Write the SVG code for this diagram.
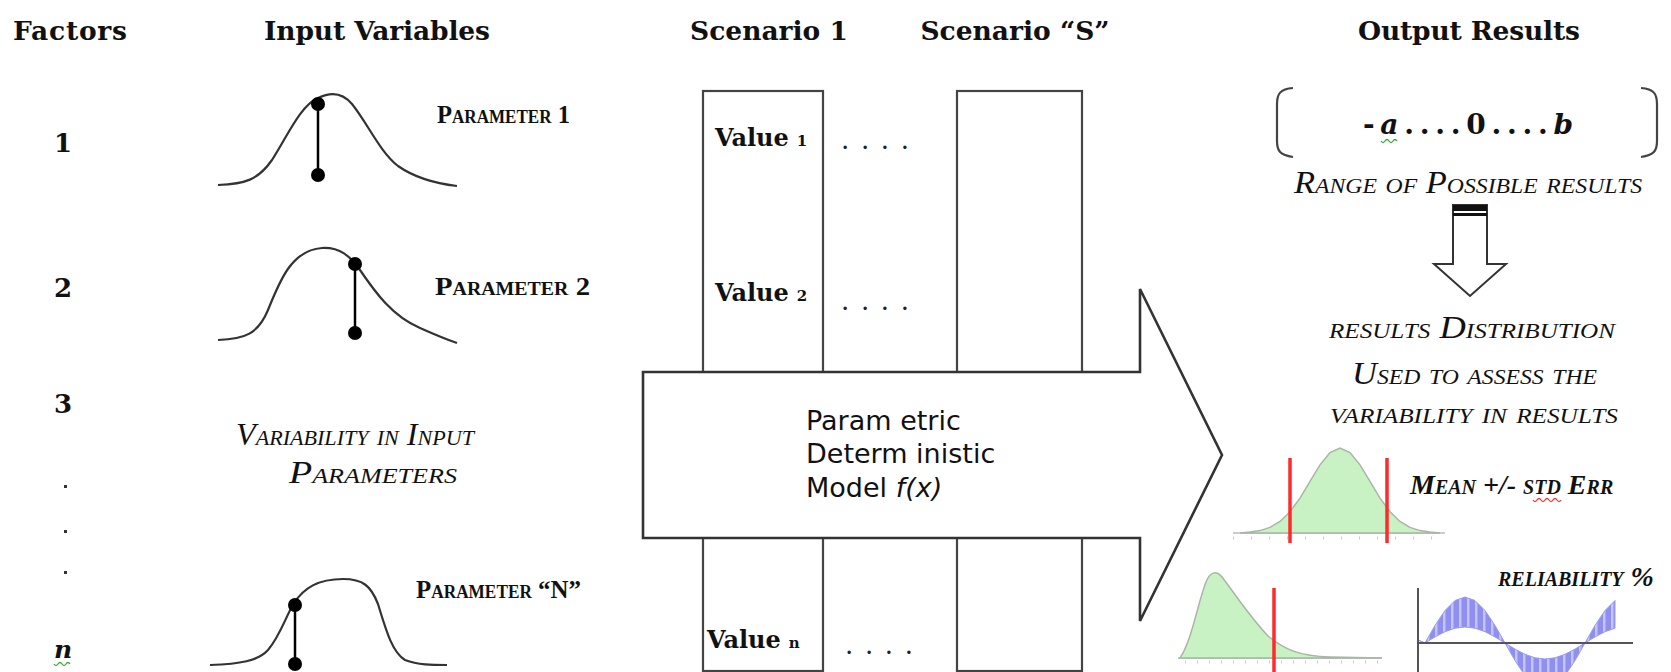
<svg xmlns="http://www.w3.org/2000/svg" width="1671" height="672" viewBox="0 0 1671 672">
<style>
.hdr{font-family:"DejaVu Serif","Liberation Serif",serif;font-weight:bold;font-size:26.5px;fill:#111}
.num{font-family:"DejaVu Serif","Liberation Serif",serif;font-weight:bold;font-size:26px;fill:#111}
.par{font-family:"Liberation Serif","DejaVu Serif",serif;font-weight:bold;font-size:26px;font-variant:small-caps;fill:#111}
.ital{font-family:"Liberation Serif","DejaVu Serif",serif;font-style:italic;font-size:32px;font-variant:small-caps;fill:#111}
.bital{font-family:"Liberation Serif","DejaVu Serif",serif;font-style:italic;font-weight:bold;font-size:28px;font-variant:small-caps;fill:#111}
.val{font-family:"DejaVu Serif","Liberation Serif",serif;font-weight:bold;font-size:24px;fill:#111}
.sub{font-size:15px}
.dots{font-family:"DejaVu Serif",serif;font-weight:bold;font-size:18px;fill:#222}
.model{font-family:"DejaVu Sans","Verdana",sans-serif;font-size:27px;fill:#111}
.curve{fill:none;stroke:#333;stroke-width:2.2}
.pin{stroke:#000;stroke-width:2.5}
.box{fill:#fff;stroke:#444;stroke-width:2.2}
.big{fill:#fff;stroke:#333;stroke-width:2.6;stroke-linejoin:miter}
.red{stroke:#ff2a2a;stroke-width:3.5}
.green{fill:#c9f2c4;stroke:#a9b5a6;stroke-width:1.5}
.axis{stroke:#bbb;stroke-width:1.5}
.sq{fill:none;stroke-width:1.3}
</style>
<defs>
<pattern id="hatch" width="8" height="8" patternUnits="userSpaceOnUse">
<rect width="8" height="8" fill="#8f8ff0"/>
<rect x="3" width="2.5" height="8" fill="#c4c4fb"/>
</pattern>
</defs>

<g id="headers">
<text class="hdr" x="13" y="40" textLength="114">Factors</text>
<text class="hdr" x="377" y="40" text-anchor="middle" textLength="226">Input Variables</text>
<text class="hdr" x="769" y="40" text-anchor="middle">Scenario 1</text>
<text class="hdr" x="1015" y="40" text-anchor="middle">Scenario “S”</text>
<text class="hdr" x="1469" y="40" text-anchor="middle" textLength="222">Output Results</text>
</g>

<g id="factors">
<text class="num" x="63" y="152" text-anchor="middle">1</text>
<text class="num" x="63" y="297" text-anchor="middle">2</text>
<text class="num" x="63" y="413" text-anchor="middle">3</text>
<rect x="64" y="485" width="3" height="3" fill="#333"/>
<rect x="64" y="530" width="3" height="3" fill="#333"/>
<rect x="64" y="571" width="3" height="3" fill="#333"/>
<text x="63" y="658" text-anchor="middle" style="font-family:'DejaVu Serif',serif;font-weight:bold;font-style:italic;font-size:25px;fill:#111">n</text>
<path class="sq" stroke="#3a3" d="M54,664 q2,3 4,0 q2,-3 4,0 q2,3 4,0 q2,-3 4,0"/>
</g>

<g id="param1">
<path class="curve" d="M218,185 C245,184 258,180 272,160 C288,135 300,106 318,98 C330,92 342,92 352,104 C368,124 380,152 398,166 C418,180 440,184 457,186"/>
<line class="pin" x1="318" y1="104" x2="318" y2="175"/>
<circle cx="318" cy="104" r="7"/>
<circle cx="318" cy="175" r="7"/>
<text class="par" x="437" y="123" textLength="133" lengthAdjust="spacingAndGlyphs">Parameter 1</text>
</g>

<g id="param2">
<path class="curve" d="M218,340 C245,339 258,334 268,310 C280,280 292,250 322,248 C340,247 350,256 360,270 C375,292 392,316 420,328 C438,336 448,340 457,343"/>
<line class="pin" x1="355" y1="264" x2="355" y2="333"/>
<circle cx="355" cy="264" r="7"/>
<circle cx="355" cy="333" r="7"/>
<text class="par" x="435" y="295" textLength="155" lengthAdjust="spacingAndGlyphs">Parameter 2</text>
</g>

<g id="variability">
<text class="ital" x="236" y="445" textLength="238" lengthAdjust="spacingAndGlyphs">Variability in Input</text>
<text class="ital" x="289" y="483" textLength="168" lengthAdjust="spacingAndGlyphs">Parameters</text>
</g>

<g id="paramN">
<path class="curve" d="M210,665 C240,664 258,661 268,650 C280,636 286,616 294,603 C304,588 318,579 343,579 C363,579 371,586 378,604 C386,630 392,652 405,660 C418,665 432,665 447,665"/>
<line class="pin" x1="295" y1="605" x2="295" y2="664"/>
<circle cx="295" cy="605" r="7"/>
<circle cx="295" cy="664" r="7"/>
<text class="par" x="416" y="598" textLength="165" lengthAdjust="spacingAndGlyphs">Parameter “N”</text>
</g>

<g id="scenario1">
<rect class="box" x="703" y="91" width="120" height="580"/>
<text class="val" x="715" y="146">Value<tspan class="sub" dx="8">1</tspan></text>
<text class="val" x="715" y="301">Value<tspan class="sub" dx="8">2</tspan></text>
<text class="val" x="707" y="648">Value<tspan class="sub" dx="8">n</tspan></text>
</g>

<g id="gap-dots">
<text class="dots" x="842" y="149" textLength="66">. . . .</text>
<text class="dots" x="842" y="310" textLength="66">. . . .</text>
<text class="dots" x="846" y="654" textLength="66">. . . .</text>
</g>

<g id="scenarioS">
<rect class="box" x="957" y="91" width="125" height="580"/>
</g>

<g id="model-arrow">
<polygon class="big" points="643,372 1140,372 1140,289 1222,455 1140,621 1140,538 643,538"/>
<text class="model" x="806" y="430">Param etric</text>
<text class="model" x="806" y="463">Determ inistic</text>
<text class="model" x="806" y="497">Model <tspan font-style="italic">f(x)</tspan></text>
</g>

<g id="range">
<path fill="none" stroke="#444" stroke-width="2.2" d="M1293,88 C1280,89 1277,94 1277,104 L1277,141 C1277,151 1280,155 1293,157"/>
<path fill="none" stroke="#444" stroke-width="2.2" d="M1641,88 C1654,89 1657,94 1657,104 L1657,141 C1657,151 1654,155 1641,157"/>
<text x="1363" y="134" textLength="210" style="font-family:'DejaVu Serif',serif;font-weight:bold;font-size:28px;fill:#111">- <tspan font-style="italic">a</tspan> . . . . 0 . . . . <tspan font-style="italic">b</tspan></text>
<path class="sq" stroke="#3a3" d="M1381,141 q2,3 4,0 q2,-3 4,0 q2,3 4,0 q2,-3 4,0"/>
<text class="ital" x="1294" y="193" textLength="348" lengthAdjust="spacingAndGlyphs">Range of Possible results</text>
</g>

<g id="down-arrow">
<polygon fill="#fff" stroke="#333" stroke-width="2" points="1453,205 1487,205 1487,264 1506,264 1470,296 1434,264 1453,264"/>
<rect x="1453" y="205" width="34" height="6" fill="#111"/>
<rect x="1453" y="213" width="34" height="3" fill="#111"/>
</g>

<g id="distribution">
<text class="ital" x="1329" y="338" textLength="286" lengthAdjust="spacingAndGlyphs">results Distribution</text>
<text class="ital" x="1352" y="384" textLength="245" lengthAdjust="spacingAndGlyphs">Used to assess  the</text>
<text class="ital" x="1330" y="423" textLength="288" lengthAdjust="spacingAndGlyphs">variability in results</text>
</g>

<g id="mean-chart">
<line class="axis" x1="1233" y1="533" x2="1445" y2="533"/>
<line x1="1233" y1="538" x2="1445" y2="538" stroke="#ccc" stroke-width="3" stroke-dasharray="1 17"/>
<path class="green" d="M1240,533 L1250,532 1260,530.6 1270,527.4 1280,521.5 1290,511.8 1300,498.1 1310,481.4 1320,464.9 1330,452.6 1340,448 1350,452.6 1360,464.9 1370,481.4 1380,498.1 1390,511.8 1400,521.5 1410,527.4 1420,530.6 1430,532 1440,533 Z"/>
<line class="red" x1="1290" y1="458" x2="1290" y2="543"/>
<line class="red" x1="1387" y1="458" x2="1387" y2="543"/>
<text class="bital" x="1410" y="494">Mean +/- std Err</text>
<path class="sq" stroke="#e33" d="M1533,500 q2,3 4,0 q2,-3 4,0 q2,3 4,0 q2,-3 4,0 q2,3 4,0 q2,-3 4,0 q2,3 4,0"/>
</g>

<g id="skew-chart">
<line class="axis" x1="1178" y1="658" x2="1382" y2="658"/>
<line x1="1185" y1="662" x2="1382" y2="662" stroke="#ccc" stroke-width="3" stroke-dasharray="1 11"/>
<path class="green" d="M1180,658 C1192,640 1198,602 1206,582 C1210,572 1216,570 1222,577 C1235,594 1250,617 1268,636 C1285,650 1300,656 1330,657 L1382,658 Z"/>
<line class="red" x1="1274" y1="588" x2="1274" y2="672"/>
</g>

<g id="reliability-chart">
<path fill="url(#hatch)" stroke="#9a9af0" stroke-width="1" d="M1418,640 L1425,643 L1435,625.4 1445,610.5 1455,600.5 1465,597 1475,600.5 1485,610.5 1495,625.4 1505,643 1515,660.6 1525,675.5 1535,685.5 1545,689 1555,685.5 1565,675.5 1575,660.6 1585,643 1595,625.4 1605,610.5 1615,600.5 L1615,628.2 1605,631.7 1595,636.9 1585,643 1575,649.1 1565,654.3 1555,657.8 1545,659 1535,657.8 1525,654.3 1515,649.1 1505,643 1495,636.9 1485,631.7 1475,628.2 1465,627 1455,628.2 1445,631.7 1435,636.9 1425,643 Z"/>
<line x1="1418" y1="588" x2="1418" y2="672" stroke="#555" stroke-width="2"/>
<line x1="1418" y1="643" x2="1633" y2="643" stroke="#555" stroke-width="2"/>
<text class="bital" x="1498" y="586">reliability %</text>
</g>
</svg>
